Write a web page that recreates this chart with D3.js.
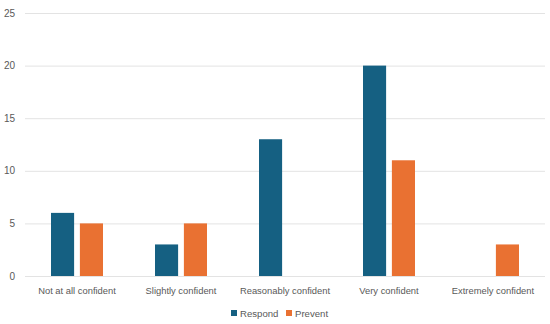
<!DOCTYPE html>
<html>
<head>
<meta charset="utf-8">
<script src="https://cdn.jsdelivr.net/npm/d3@7"></script>
<style>
  body { margin: 0; background: #fff; }
  svg text { font-family: "Liberation Sans", Arial, sans-serif; fill: #595959; }
</style>
</head>
<body>
<div id="chart"></div>
<script>
// data
const categories = ["Not at all confident", "Slightly confident", "Reasonably confident", "Very confident", "Extremely confident"];
const seriesNames = ["Respond", "Prevent"];
const respond = [6, 3, 13, 20, 0];
const prevent = [5, 5, 0, 11, 3];
const yTicks = [0, 5, 10, 15, 20, 25];
const colors = ["#156082", "#e97132"];

const width = 550, height = 324;
const svg = d3.select("#chart").append("svg")
    .attr("width", width)
    .attr("height", height);

const x0 = d3.scaleBand().domain(categories).range([25, 545])
    .paddingInner(0.5).paddingOuter(0.25);
const x1 = d3.scaleBand().domain(seriesNames).range([0, x0.bandwidth()])
    .paddingInner(0.2);
const y = d3.scaleLinear().domain([0, 25]).range([276, 13]);

// gridlines
svg.append("g").selectAll("line")
    .data(yTicks)
    .enter().append("line")
    .attr("x1", 25).attr("x2", 545)
    .attr("y1", d => y(d) + 0.5).attr("y2", d => y(d) + 0.5)
    .style("stroke", "#e3e3e3")
    .style("stroke-width", 1);

// y labels
svg.append("g").selectAll("text")
    .data(yTicks)
    .enter().append("text")
    .attr("x", 15)
    .attr("y", d => y(d))
    .attr("dy", "0.35em")
    .attr("text-anchor", "end")
    .style("font-size", "10px")
    .text(d => d);

// bars
const rows = categories.map((c, i) => ({ cat: c, vals: [respond[i], prevent[i]] }));
const groups = svg.append("g").selectAll("g")
    .data(rows)
    .enter().append("g")
    .attr("transform", d => "translate(" + x0(d.cat) + ",0)");

groups.selectAll("rect")
    .data(d => d.vals.map((v, j) => ({ name: seriesNames[j], v: v, j: j })))
    .enter().append("rect")
    .attr("x", d => x1(d.name))
    .attr("width", x1.bandwidth())
    .attr("y", d => y(d.v))
    .attr("height", d => y(0) - y(d.v))
    .style("fill", d => colors[d.j]);

// x labels
svg.append("g").selectAll("text")
    .data(categories)
    .enter().append("text")
    .attr("x", d => x0(d) + x0.bandwidth() / 2)
    .attr("y", 294)
    .attr("text-anchor", "middle")
    .style("font-size", "9.4px")
    .text(d => d);

// legend
const legend = svg.append("g");
const legendX = [231, 286];
seriesNames.forEach((s, i) => {
    legend.append("rect")
        .attr("x", legendX[i]).attr("y", 310)
        .attr("width", 6).attr("height", 6)
        .style("fill", colors[i]);
    legend.append("text")
        .attr("x", legendX[i] + 9).attr("y", 317)
        .style("font-size", "9.6px")
        .text(s);
});
</script>
</body>
</html>
